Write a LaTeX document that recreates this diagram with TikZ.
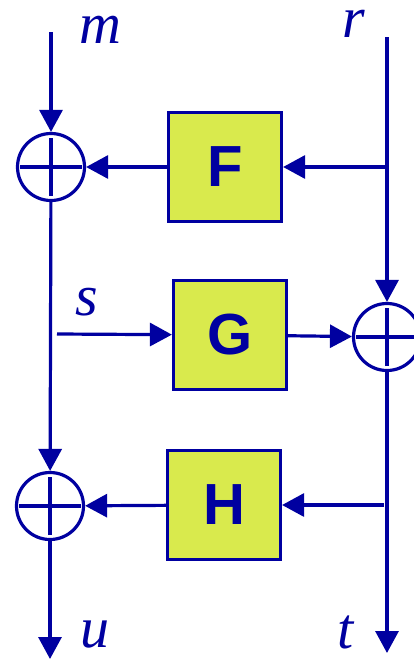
\documentclass[tikz,border=0pt]{standalone}
\usepackage{fontspec}
\setmainfont{Liberation Serif}
\newfontfamily\boxfont{Liberation Sans}
\usetikzlibrary{arrows.meta}
\definecolor{lineblue}{RGB}{0,0,160}
\definecolor{boxfill}{RGB}{217,234,77}
\tikzset{
  sumnode/.style={circle,draw=lineblue,line width=3.2pt,minimum size=67pt,inner sep=0pt},
  block/.style={draw=lineblue,fill=boxfill,line width=3.2pt,minimum width=113pt,
    minimum height=109pt,text=lineblue,font=\boxfont\bfseries\fontsize{58}{60}\selectfont},
  lab/.style={text=lineblue,font=\itshape\fontsize{58}{60}\selectfont,inner sep=0pt,anchor=base}
}
\begin{document}
\begin{tikzpicture}[x=1pt,y=-1pt,line width=3.2pt,
    >={Triangle[length=22pt,width=23pt]}]
  \useasboundingbox (0,0) rectangle (413,659);
  % Summing points and blocks
  \node[sumnode] (s1) at (51,167) {};
  \node[sumnode] (s2) at (387,337) {};
  \node[sumnode] (s3) at (50,506) {};
  \node[block] (F) at (225,167) {F};
  \node[block] (G) at (230,335) {G};
  \node[block] (H) at (224,505) {H};
  \foreach \n in {s1,s2,s3}{
    \draw[lineblue] ([xshift=-31pt]\n.center) -- ([xshift=31pt]\n.center);
    \draw[lineblue] ([yshift=-29pt]\n.center) -- ([yshift=29pt]\n.center);
  }
  % Ends and branch points
  \coordinate (mtop) at (51,32);
  \coordinate (rtop) at (387,37);
  \coordinate (fb) at (387,167);
  \coordinate (hb) at (384,505);
  \coordinate (sin) at (57,334);
  \coordinate (uend) at (50,659);
  \coordinate (tend) at (387,653);
  % Signal flow
  \draw[->,lineblue] (mtop) -- (s1);
  \draw[->,lineblue] (rtop) -- (s2);
  \draw[->,lineblue] (fb) -- (F);
  \draw[->,lineblue] (F) -- (s1);
  \draw[->,lineblue] (s1) -- (s3);
  \draw[->,lineblue] (sin) -- (G);
  \draw[->,lineblue] (G) -- (s2);
  \draw[->,lineblue] (s2) -- (tend);
  \draw[->,lineblue] (hb) -- (H);
  \draw[->,lineblue] (H) -- (s3);
  \draw[->,lineblue] (s3) -- (uend);
  % Labels
  \node[lab] (lm) at (100,43) {m};
  \node[lab] (lr) at (354,37) {r};
  \node[lab] (ls) at (87,315) {s};
  \node[lab] (lu) at (95,647) {u};
  \node[lab] (lt) at (346,648) {t};
\end{tikzpicture}
\end{document}
